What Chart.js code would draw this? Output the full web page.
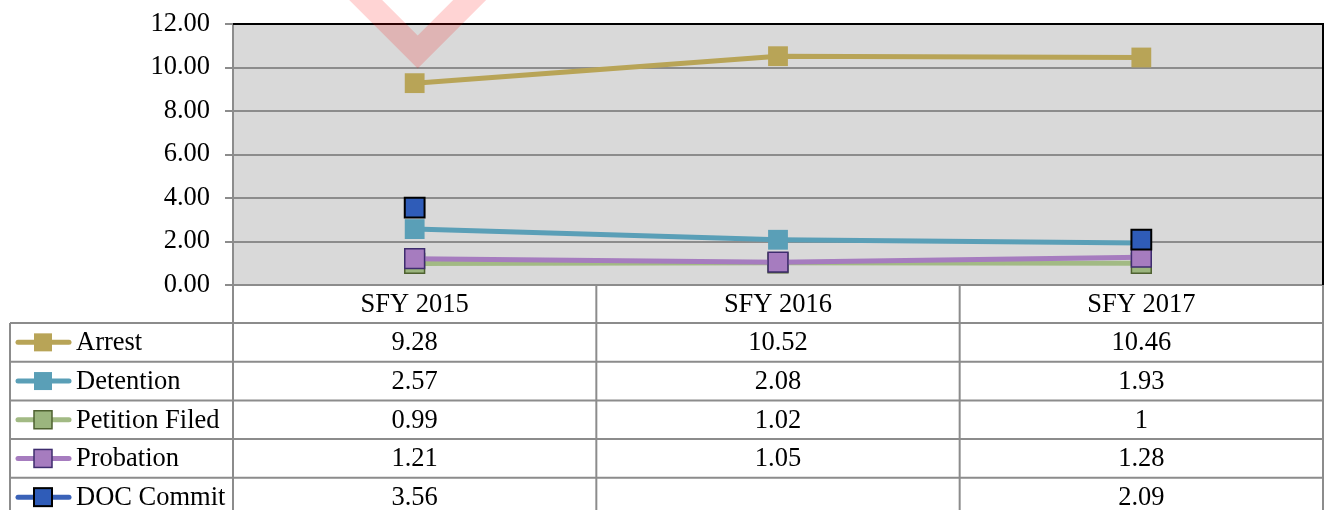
<!DOCTYPE html>
<html>
<head>
<meta charset="utf-8">
<script src="https://cdn.jsdelivr.net/npm/chart.js@4/dist/chart.umd.min.js"></script>
<style>
    html, body { margin: 0; padding: 0; overflow: hidden; background: #fff; }
    #rateChart { display: block; }
</style>
</head>
<body>
<canvas id="rateChart" width="1325" height="510"></canvas>
<script>
const years = ['SFY 2015', 'SFY 2016', 'SFY 2017'];
const arrest = [9.28, 10.52, 10.46];
const detention = [2.57, 2.08, 1.93];
const petitionFiled = [0.99, 1.02, 1];
const probation = [1.21, 1.05, 1.28];
const docCommit = [3.56, null, 2.09];
const yTicks = [0, 2, 4, 6, 8, 10, 12];

const FONT = '"Liberation Serif", "Times New Roman", serif';
const FONT_SIZE = 26.5;
const GRID = '#8c8c8c';

// one entry per series, in table row order; later ones sit on top in the plot
const series = [
    {label: 'Arrest', data: arrest, line: '#b8a457', fill: '#b8a457', edge: '#b8a457', edgeW: 0},
    {label: 'Detention', data: detention, line: '#5a9fb7', fill: '#5a9fb7', edge: '#5a9fb7', edgeW: 0},
    {label: 'Petition Filed', data: petitionFiled, line: '#a2ba84', fill: '#9bb57e', edge: '#4e6130', edgeW: 1.5},
    {label: 'Probation', data: probation, line: '#a67cbf', fill: '#a67cbf', edge: '#3e2c6e', edgeW: 1.5},
    {label: 'DOC Commit', data: docCommit, line: '#3a62b8', fill: '#2f5cb8', edge: '#000000', edgeW: 2}
];

const plotFrame = {
    id: 'plotFrame',
    beforeDraw(chart) {
        const {ctx, chartArea: a} = chart;
        ctx.save();
        ctx.fillStyle = '#d9d9d9';
        ctx.fillRect(a.left, a.top, a.right - a.left, a.bottom - a.top);
        ctx.restore();
    },
    afterDraw(chart) {
        const {ctx, chartArea: a} = chart;
        const x = chart.scales.x;
        const y = chart.scales.y;
        ctx.save();

        // black frame on top and right
        ctx.strokeStyle = '#000';
        ctx.lineWidth = 2;
        ctx.beginPath();
        ctx.moveTo(a.left, a.top);
        ctx.lineTo(a.right, a.top);
        ctx.lineTo(a.right, a.bottom);
        ctx.stroke();

        // data table under the plot
        const half = (x.getPixelForValue(1) - x.getPixelForValue(0)) / 2;
        const headBottom = a.bottom + 38;
        const rowH = 38.7;
        const tableLeft = 10;
        const tableBottom = chart.height + 10;

        ctx.strokeStyle = GRID;
        ctx.lineWidth = 2;
        ctx.beginPath();
        for (let r = 0; r < series.length; r++) {
            const ty = headBottom + r * rowH;
            ctx.moveTo(tableLeft, ty);
            ctx.lineTo(a.right, ty);
        }
        ctx.moveTo(tableLeft, headBottom);
        ctx.lineTo(tableLeft, tableBottom);
        ctx.moveTo(a.left, a.bottom);
        ctx.lineTo(a.left, tableBottom);
        years.forEach((yr, i) => {
            const edge = x.getPixelForValue(i) + half;
            ctx.moveTo(edge, a.bottom);
            ctx.lineTo(edge, tableBottom);
        });
        ctx.stroke();

        ctx.fillStyle = '#000';
        ctx.font = FONT_SIZE + 'px ' + FONT;
        ctx.textBaseline = 'middle';
        ctx.textAlign = 'center';
        years.forEach((yr, i) => {
            ctx.fillText(yr, x.getPixelForValue(i), (a.bottom + headBottom) / 2 + 1);
        });

        series.forEach((s, r) => {
            const cy = headBottom + r * rowH + rowH / 2 + 1;
            s.data.forEach((v, i) => {
                if (v === null) return;
                ctx.textAlign = 'center';
                ctx.fillStyle = '#000';
                ctx.fillText(String(v), x.getPixelForValue(i), cy);
            });

            // legend key
            const ky = cy - 1;
            ctx.strokeStyle = s.line;
            ctx.lineWidth = 5;
            ctx.lineCap = 'round';
            ctx.beginPath();
            ctx.moveTo(18, ky);
            ctx.lineTo(69, ky);
            ctx.stroke();
            ctx.fillStyle = s.fill;
            ctx.fillRect(34, ky - 9, 18, 18);
            if (s.edgeW) {
                ctx.strokeStyle = s.edge;
                ctx.lineWidth = s.edgeW;
                ctx.strokeRect(34, ky - 9, 18, 18);
            }
            ctx.fillStyle = '#000';
            ctx.textAlign = 'left';
            ctx.fillText(s.label, 76, cy);
        });

        // faint red chevron mark over the first category
        const px = x.getPixelForValue(0) + 3;
        const py = y.getPixelForValue(10) + 1;
        ctx.fillStyle = 'rgba(255, 0, 0, 0.17)';
        ctx.beginPath();
        ctx.moveTo(px - 80, py - 80);
        ctx.lineTo(px, py);
        ctx.lineTo(px + 80, py - 80);
        ctx.lineTo(px + 47, py - 80);
        ctx.lineTo(px, py - 33);
        ctx.lineTo(px - 47, py - 80);
        ctx.closePath();
        ctx.fill();

        ctx.restore();
    }
};

const datasets = series.map((s, i) => ({
    label: s.label,
    data: s.data,
    order: series.length - i,
    borderColor: s.line,
    backgroundColor: s.fill,
    borderWidth: 5,
    pointStyle: 'rect',
    pointRadius: 14,
    pointHoverRadius: 14,
    pointBackgroundColor: s.fill,
    pointBorderColor: s.edge,
    pointBorderWidth: s.edgeW,
    tension: 0,
    spanGaps: false
}));

new Chart(document.getElementById('rateChart').getContext('2d'), {
    type: 'line',
    data: {labels: years, datasets},
    options: {
        responsive: false,
        animation: false,
        layout: {autoPadding: false, padding: {top: 24, right: 2, bottom: 225, left: 0}},
        plugins: {
            legend: {display: false},
            tooltip: {enabled: false}
        },
        scales: {
            x: {
                display: false,
                offset: true
            },
            y: {
                min: 0,
                max: 12,
                afterFit: scale => {
                    scale.width = 233;
                    scale.paddingTop = 0;
                    scale.paddingBottom = 0;
                },
                afterBuildTicks: scale => { scale.ticks = yTicks.map(v => ({value: v})); },
                ticks: {
                    color: '#000',
                    font: {family: FONT, size: FONT_SIZE},
                    padding: 15,
                    callback: v => Number(v).toFixed(2)
                },
                grid: {color: GRID, lineWidth: 2, tickLength: 8},
                border: {color: GRID, width: 2}
            }
        }
    },
    plugins: [plotFrame]
});
</script>
</body>
</html>
